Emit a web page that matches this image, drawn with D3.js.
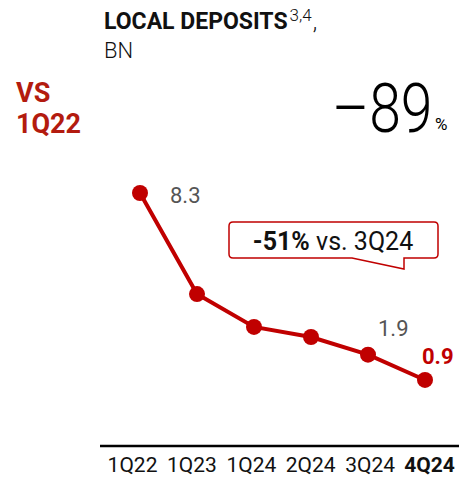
<!DOCTYPE html>
<html>
<head>
<meta charset="utf-8">
<script src="https://cdn.jsdelivr.net/npm/d3@7"></script>
<style>
  body { margin: 0; background: #fff; }
  svg { display: block; font-family: Roboto, "Noto Sans", sans-serif; }
</style>
</head>
<body>
<svg id="chart" width="459" height="478"></svg>
<script>
// chart data
var quarters = ['1Q22', '1Q23', '1Q24', '2Q24', '3Q24', '4Q24'];
var deposits = [8.3, 4.3, 3.0, 2.6, 1.9, 0.9];
var labelQuarters = ['1Q22', '3Q24', '4Q24'];
var labelTexts = ['8.3', '1.9', '0.9'];

var red = '#c00000';
var svg = d3.select('#chart');

var x = d3.scalePoint().domain(quarters).range([140, 425]);
var xLabels = d3.scalePoint().domain(quarters).range([132, 429]);
var y = d3.scaleLinear().domain([0, 8.3]).range([402.7, 193]);

// header
var title = svg.append('text').attr('x', 104).attr('y', 29)
  .style('font-size', '23px').style('font-weight', 700).attr('fill', '#111');
title.append('tspan').text('LOCAL DEPOSITS');
title.append('tspan').text('3,4').attr('dx', 2).attr('dy', -8).style('font-size', '17px').style('font-weight', 300);
title.append('tspan').text(',').attr('dx', 1).attr('dy', 8).style('font-weight', 300);

svg.append('text').attr('x', 104).attr('y', 58).text('BN')
  .style('font-size', '22px').style('font-weight', 300).attr('fill', '#111');

svg.append('text').attr('x', 16).attr('y', 102).text('VS')
  .style('font-size', '27px').style('font-weight', 700).attr('fill', '#b31b0f');
svg.append('text').attr('x', 16).attr('y', 133).text('1Q22')
  .style('font-size', '27px').style('font-weight', 700).attr('fill', '#b31b0f');

// headline change, squeezed a little to mimic the narrower original face
svg.append('g').attr('transform', 'translate(332,132) scale(0.84,1)')
  .append('text').text('\u201389')
  .style('font-size', '68px').style('font-weight', 300).attr('fill', '#000');
svg.append('text').attr('x', 435).attr('y', 130).text('%')
  .style('font-size', '17px').attr('fill', '#000');

// axis
var xAxis = d3.axisBottom(xLabels).tickSize(0).tickPadding(11);
var ax = svg.append('g').attr('transform', 'translate(0,446)').call(xAxis);
ax.select('.domain').attr('d', 'M100,0H459').attr('stroke', '#000').attr('stroke-width', 2.5);
ax.selectAll('text')
  .style('font-size', '21px').style('font-family', 'Roboto, sans-serif')
  .attr('fill', '#111')
  .style('font-weight', function(d) { return d === '4Q24' ? 700 : 400; });

// line
var line = d3.line()
  .x(function(d, i) { return x(quarters[i]); })
  .y(function(d) { return y(d); });

svg.append('path').datum(deposits).attr('d', line)
  .attr('fill', 'none').attr('stroke', red).attr('stroke-width', 4);

svg.selectAll('circle.pt').data(deposits).enter().append('circle')
  .attr('class', 'pt')
  .attr('cx', function(d, i) { return x(quarters[i]); })
  .attr('cy', function(d) { return y(d); })
  .attr('r', 8).attr('fill', red);

// value labels
var offsets = [[30, 10], [10, -19], [-3, -16]];
var labels = labelQuarters.map(function(q, i) {
  return { q: q, text: labelTexts[i], v: deposits[quarters.indexOf(q)], off: offsets[i], last: q === '4Q24' };
});

svg.selectAll('text.val').data(labels).enter().append('text')
  .attr('class', 'val')
  .text(function(d) { return d.text; })
  .attr('x', function(d) { return x(d.q) + d.off[0]; })
  .attr('y', function(d) { return y(d.v) + d.off[1]; })
  .style('font-size', '22px')
  .style('font-weight', function(d) { return d.last ? 700 : 400; })
  .attr('fill', function(d) { return d.last ? red : '#555'; });

// callout
var callout = 'M233,222 H434 Q438,222 438,226 V254 Q438,258 434,258 H404 V269 L352,258 H233 Q229,258 229,254 V226 Q229,222 233,222 Z';
svg.append('path').attr('d', callout).attr('fill', '#fff')
  .attr('stroke', red).attr('stroke-width', 1.5);
var ct = svg.append('text').attr('x', 333).attr('y', 250).attr('text-anchor', 'middle')
  .style('font-size', '25px').attr('fill', '#111');
ct.append('tspan').text('-51%').style('font-weight', 700);
ct.append('tspan').text(' vs. 3Q24');
</script>
</body>
</html>
